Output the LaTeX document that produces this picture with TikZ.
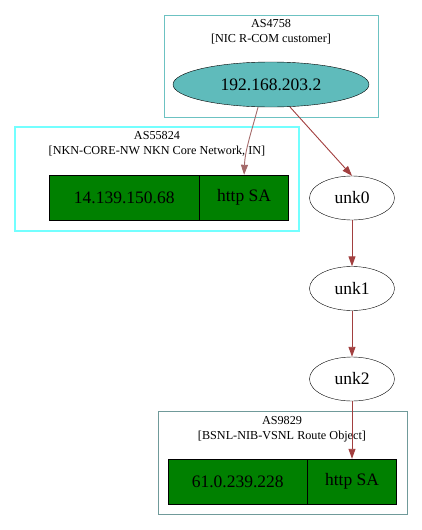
\documentclass[tikz,border=0pt]{standalone}
\usepackage{fontspec}
\setmainfont{Liberation Serif}
\usetikzlibrary{shapes.geometric,arrows.meta}
\definecolor{clA}{HTML}{6CC2C2}
\definecolor{clB}{HTML}{00FFFF}
\definecolor{clC}{HTML}{709A9A}
\definecolor{ipfill}{HTML}{5FBBBB}
\definecolor{recfill}{HTML}{008000}
\definecolor{edgeA}{HTML}{A46A6A}
\definecolor{edgeB}{HTML}{A23F3F}
\tikzset{
  cluster/.style={draw, line width=1pt},
  clabel/.style={font=\fontsize{12.2}{15}\selectfont, align=center, inner sep=0pt},
  unknode/.style={draw, ellipse, minimum width=85pt, minimum height=44pt, inner sep=0pt, font=\fontsize{17.5}{20}\selectfont},
  reccell/.style={draw, fill=recfill, minimum height=45pt, inner sep=0pt, anchor=west, font=\fontsize{17.5}{20}\selectfont},
  edgestyle/.style={line width=0.9pt, -{Triangle[length=10pt,width=7pt]}},
}
\begin{document}
\begin{tikzpicture}[x=1pt,y=-1pt]
\useasboundingbox (0,0) rectangle (421,530);
% clusters
\draw[cluster, clA] (164,15) rectangle (378,117);
\node[clabel] (lA) at (271,32) {AS4758\\{}[NIC R-COM customer]};
\draw[cluster, clB!55, line width=1.15pt] (15,127) rectangle (299,231);
\node[clabel] (lB) at (157,144) {AS55824\\{}[NKN-CORE-NW NKN Core Network, IN]};
\draw[cluster, clC] (158,411) rectangle (407,514);
\node[clabel] (lC) at (282,429) {AS9829\\{}[BSNL-NIB-VSNL Route Object]};
% nodes
\node[draw, ellipse, fill=ipfill, minimum width=196pt, minimum height=45pt, inner sep=0pt, font=\fontsize{17.5}{20}\selectfont] (ip) at (271,84.5) {192.168.203.2};
\node[reccell, minimum width=150pt] (r1a) at (49,197.5) {14.139.150.68};
\node[reccell, minimum width=89pt] (r1b) at (r1a.east) {http SA};
\node[unknode] (u0) at (352,198) {unk0};
\node[unknode] (u1) at (352,288.5) {unk1};
\node[unknode] (u2) at (352,379) {unk2};
\node[reccell, minimum width=139pt] (r2a) at (168,481.5) {61.0.239.228};
\node[reccell, minimum width=89pt] (r2b) at (r2a.east) {http SA};
% edges
\draw[edgestyle, edgeA] (ip.south) ++(-13,0) coordinate (s1) (s1) .. controls (252,130) and (245,150) .. (r1b.north);
\draw[edgestyle, edgeB] (ip) ++(19,22.5) coordinate (s2) (s2) -- (u0.north);
\draw[edgestyle, edgeB] (u0) -- (u1);
\draw[edgestyle, edgeB] (u1) -- (u2);
\draw[edgestyle, edgeB] (u2.south) -- (u2.south |- r2b.north);
\end{tikzpicture}
\end{document}
